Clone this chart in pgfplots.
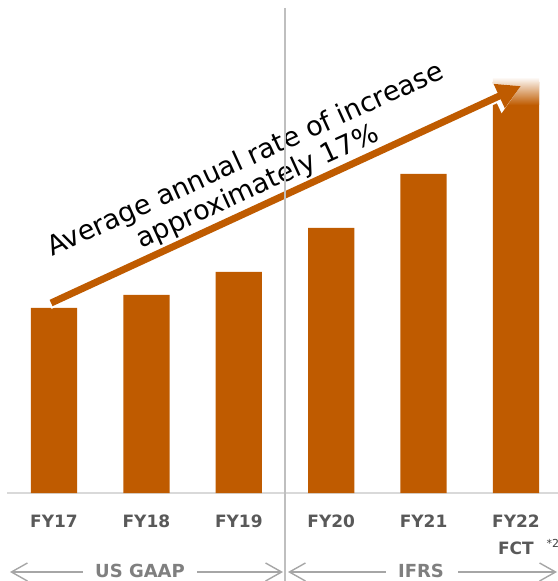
\documentclass[border=0pt]{standalone}
\usepackage{fontspec}
\setmainfont{DejaVu Sans}
\usepackage{pgfplots}
\pgfplotsset{compat=1.18}
\usetikzlibrary{arrows.meta}

\definecolor{barc}{RGB}{191,91,0}
\definecolor{basegray}{RGB}{217,217,217}
\definecolor{sepgray}{RGB}{191,191,191}
\definecolor{labgray}{RGB}{89,89,89}
\definecolor{stdgray}{RGB}{127,127,127}
\definecolor{arrgray}{RGB}{166,166,166}

\begin{document}
\begin{tikzpicture}
\begin{axis}[
  at={(0,0)}, anchor=south west,
  scale only axis,
  width=551bp, height=493bp,
  xmin=-0.509, xmax=5.455,
  ymin=0, ymax=493,
  ybar, bar width=0.5,
  axis x line*=bottom,
  axis y line=none,
  x axis line style={draw=basegray, line width=1.2bp},
  xtick={0,1,2,3,4,5},
  xticklabels={FY17,FY18,FY19,FY20,FY21,FY22},
  major tick length=0pt,
  xticklabel style={anchor=base, yshift=-34bp,
    font=\fontsize{17bp}{19bp}\selectfont\bfseries, text=labgray},
  clip=false,
]
% revenue bars (FY22 is the forecast)
\addplot[fill=barc, draw=none] coordinates {
  (0,185) (1,198) (2,221) (3,265) (4,319) (5,411)
};

% soft top edge of the forecast bar
\shade[top color=white, bottom color=barc, draw=none]
  (axis cs:4.75,388) rectangle (axis cs:5.25,416);

% annotation along the arrow
\node[rotate=24.5, anchor=base, font=\fontsize{27bp}{32bp}\selectfont]
  at (axis cs:2.110,326) {Average annual rate of increase};
\node[rotate=24.5, anchor=base, font=\fontsize{27bp}{32bp}\selectfont]
  at (axis cs:2.240,299) {approximately 17\%};

% growth arrow with a white halo, drawn over the text
\draw[white, line width=11bp, shorten <=-2bp,
      -{Triangle[length=29bp,width=31bp]}]
  (axis cs:-0.032,190) -- (axis cs:5.054,407);
\draw[barc, line width=7bp,
      -{Triangle[length=24bp,width=25bp]}]
  (axis cs:-0.032,190) -- (axis cs:5.054,407);

% forecast marker under FY22
\node[anchor=base, font=\fontsize{17bp}{19bp}\selectfont\bfseries, text=labgray]
  (fct) at ([yshift=-61bp]axis cs:5,0) {FCT};
\node[anchor=base west, font=\fontsize{11bp}{13bp}\selectfont, text=black!75,
      inner sep=0pt]
  at ([xshift=9bp, yshift=7bp]fct.base east) {*2};
\end{axis}

% accounting-standard divider and ranges
\draw[sepgray, line width=2bp] (278bp,485bp) -- (278bp,-88bp);
\begin{scope}[arrgray, line width=1.4bp]
  \draw[{Straight Barb[length=16bp,width=18bp]}-] (3bp,-79bp) -- (76bp,-79bp);
  \draw[-{Straight Barb[length=16bp,width=18bp]}] (190bp,-79bp) -- (276bp,-79bp);
  \draw[{Straight Barb[length=16bp,width=18bp]}-] (281bp,-79bp) -- (379bp,-79bp);
  \draw[-{Straight Barb[length=16bp,width=18bp]}] (451bp,-79bp) -- (550bp,-79bp);
\end{scope}
\node[font=\fontsize{18bp}{20bp}\selectfont\bfseries, text=stdgray, anchor=base]
  at (133bp,-84bp) {US GAAP};
\node[font=\fontsize{18bp}{20bp}\selectfont\bfseries, text=stdgray, anchor=base]
  at (414bp,-84bp) {IFRS};

\pgfresetboundingbox
\path[use as bounding box] (-7bp,-88bp) rectangle (551bp,493bp);
\end{tikzpicture}
\end{document}
